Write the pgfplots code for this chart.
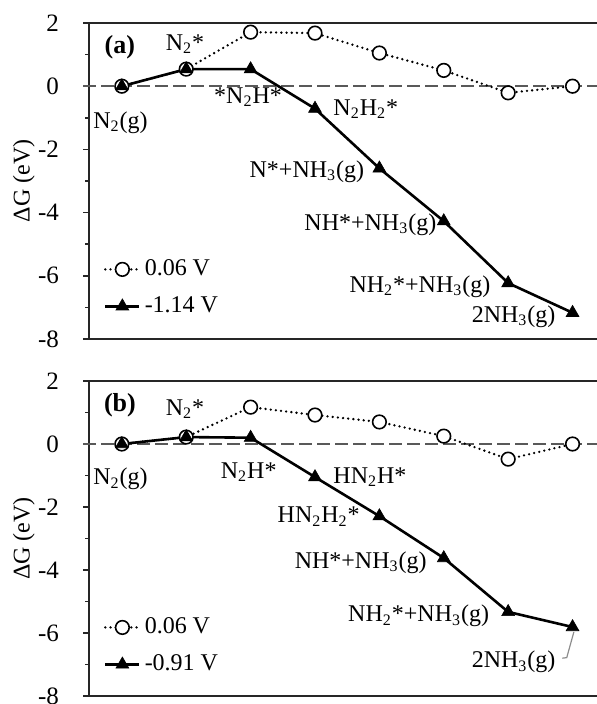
\documentclass[border=0pt]{standalone}
\usepackage{pgfplots}
\pgfplotsset{compat=1.18}
\usepackage{fontspec}
\setmainfont{Liberation Serif}

\newcommand\tickfont{\fontsize{12.5}{14}\selectfont}
\newcommand\labfont{\fontsize{12}{14}\selectfont}

\pgfplotsset{
  panel/.style={
    scale only axis, width=254pt, height=158pt,
    xmin=0.49, xmax=8.38, ymin=-8, ymax=2,
    hide x axis, axis y line*=left,
    ytick={-8,-6,-4,-2,0,2}, yticklabels={-8,-6,-4,-2,0,2},
    minor ytick={-7,-5,-3,-1,1},
    tick align=outside, major tick length=3pt, minor tick length=2pt,
    y axis line style={line width=0.8pt, black!85},
    every tick/.style={line width=0.8pt, black!85},
    yticklabel style={font=\tickfont, xshift=-8.5pt},
    ylabel={ΔG (eV)},
    ylabel style={at={(axis description cs:-0.128,0.5)}, anchor=center, font=\labfont},
    clip=false,
    legend style={draw=none, fill=none, font=\labfont, row sep=5pt,
      cells={anchor=west}},
  },
  circ/.style={black, line width=1.3pt, dash pattern=on 0pt off 2.6pt, line cap=round,
    mark=*, mark size=3.4pt, mark options={solid, fill=white, line width=0.8pt}},
  tri/.style={black, line width=1.3pt, mark=triangle*, mark size=3.7pt,
    mark options={solid, line width=0.3pt}},
}
\tikzset{
  zeroline/.style={black!65, line width=0.9pt, dash pattern=on 6.5pt off 2.5pt},
  frameline/.style={black!85, line width=0.9pt},
  lbl/.style={font=\labfont, inner sep=0pt},
}

\begin{document}
\begin{tikzpicture}
\path[use as bounding box] (0pt,0pt) rectangle (298.5pt,-352pt);

% ---- panel (a)
\begin{axis}[panel, at={(44.5pt,-11.5pt)}, anchor=north west,
  legend style={at={(axis cs:1.64,-6.38)}, anchor=center}]
\draw[zeroline] ([xshift=-3pt]axis cs:0.49,0) -- (axis cs:8.38,0);
\draw[frameline] ([xshift=-3pt]rel axis cs:0,1) -- (rel axis cs:1,1);
\draw[frameline] ([xshift=-3pt]rel axis cs:0,0) -- (rel axis cs:1,0);
\addplot[circ] coordinates {
  (1,0) (2,0.54) (3,1.71) (4,1.68) (5,1.05) (6,0.50) (7,-0.21) (8,0)
};
\addlegendentry{0.06 V}
\addplot[tri] coordinates {
  (1,0) (2,0.54) (3,0.54) (4,-0.71) (5,-2.60) (6,-4.27) (7,-6.23) (8,-7.17)
};
\addlegendentry{-1.14 V}
\node[lbl, anchor=base, font=\fontsize{13}{15}\selectfont\bfseries] at (axis cs:0.97,1.04) {(a)};
\node[lbl, anchor=base] at (axis cs:1.98,1.14) {N\textsubscript{2}*};
\node[lbl, anchor=base] at (axis cs:0.98,-1.33) {N\textsubscript{2}(g)};
\node[lbl, anchor=base] at (axis cs:2.96,-0.54) {*N\textsubscript{2}H*};
\node[lbl, anchor=base west] at (axis cs:4.28,-0.92) {N\textsubscript{2}H\textsubscript{2}*};
\node[lbl, anchor=base east] at (axis cs:4.77,-2.88) {N*+NH\textsubscript{3}(g)};
\node[lbl, anchor=base east] at (axis cs:5.89,-4.56) {NH*+NH\textsubscript{3}(g)};
\node[lbl, anchor=base east] at (axis cs:6.73,-6.52) {NH\textsubscript{2}*+NH\textsubscript{3}(g)};
\node[lbl, anchor=base east] at (axis cs:7.74,-7.47) {2NH\textsubscript{3}(g)};
\end{axis}

% ---- panel (b)
\begin{axis}[panel, at={(44.5pt,-190.5pt)}, anchor=north west, height=157.5pt,
  legend style={at={(axis cs:1.64,-6.41)}, anchor=center}]
\draw[zeroline] ([xshift=-3pt]axis cs:0.49,0) -- (axis cs:8.38,0);
\draw[frameline] ([xshift=-3pt]rel axis cs:0,1) -- (rel axis cs:1,1);
\draw[frameline] ([xshift=-3pt]rel axis cs:0,0) -- (rel axis cs:1,0);
\addplot[circ] coordinates {
  (1,0) (2,0.22) (3,1.17) (4,0.92) (5,0.70) (6,0.25) (7,-0.48) (8,0)
};
\addlegendentry{0.06 V}
\addplot[tri] coordinates {
  (1,0) (2,0.22) (3,0.20) (4,-1.05) (5,-2.29) (6,-3.62) (7,-5.33) (8,-5.81)
};
\addlegendentry{-0.91 V}
\node[lbl, anchor=base, font=\fontsize{13}{15}\selectfont\bfseries] at (axis cs:0.97,1.02) {(b)};
\node[lbl, anchor=base] at (axis cs:1.98,0.92) {N\textsubscript{2}*};
\node[lbl, anchor=base] at (axis cs:0.98,-1.30) {N\textsubscript{2}(g)};
\node[lbl, anchor=base] at (axis cs:2.97,-1.08) {N\textsubscript{2}H*};
\node[lbl, anchor=base west] at (axis cs:4.28,-1.24) {HN\textsubscript{2}H*};
\node[lbl, anchor=base east] at (axis cs:4.70,-2.50) {HN\textsubscript{2}H\textsubscript{2}*};
\node[lbl, anchor=base east] at (axis cs:5.74,-3.94) {NH*+NH\textsubscript{3}(g)};
\node[lbl, anchor=base east] at (axis cs:6.71,-5.65) {NH\textsubscript{2}*+NH\textsubscript{3}(g)};
\node[lbl, anchor=base east] at (axis cs:7.74,-7.11) {2NH\textsubscript{3}(g)};
\draw[black!45, line width=0.6pt] (axis cs:7.84,-6.80) -- (axis cs:7.91,-6.78) -- (axis cs:8.02,-5.97);
\end{axis}
\end{tikzpicture}
\end{document}
